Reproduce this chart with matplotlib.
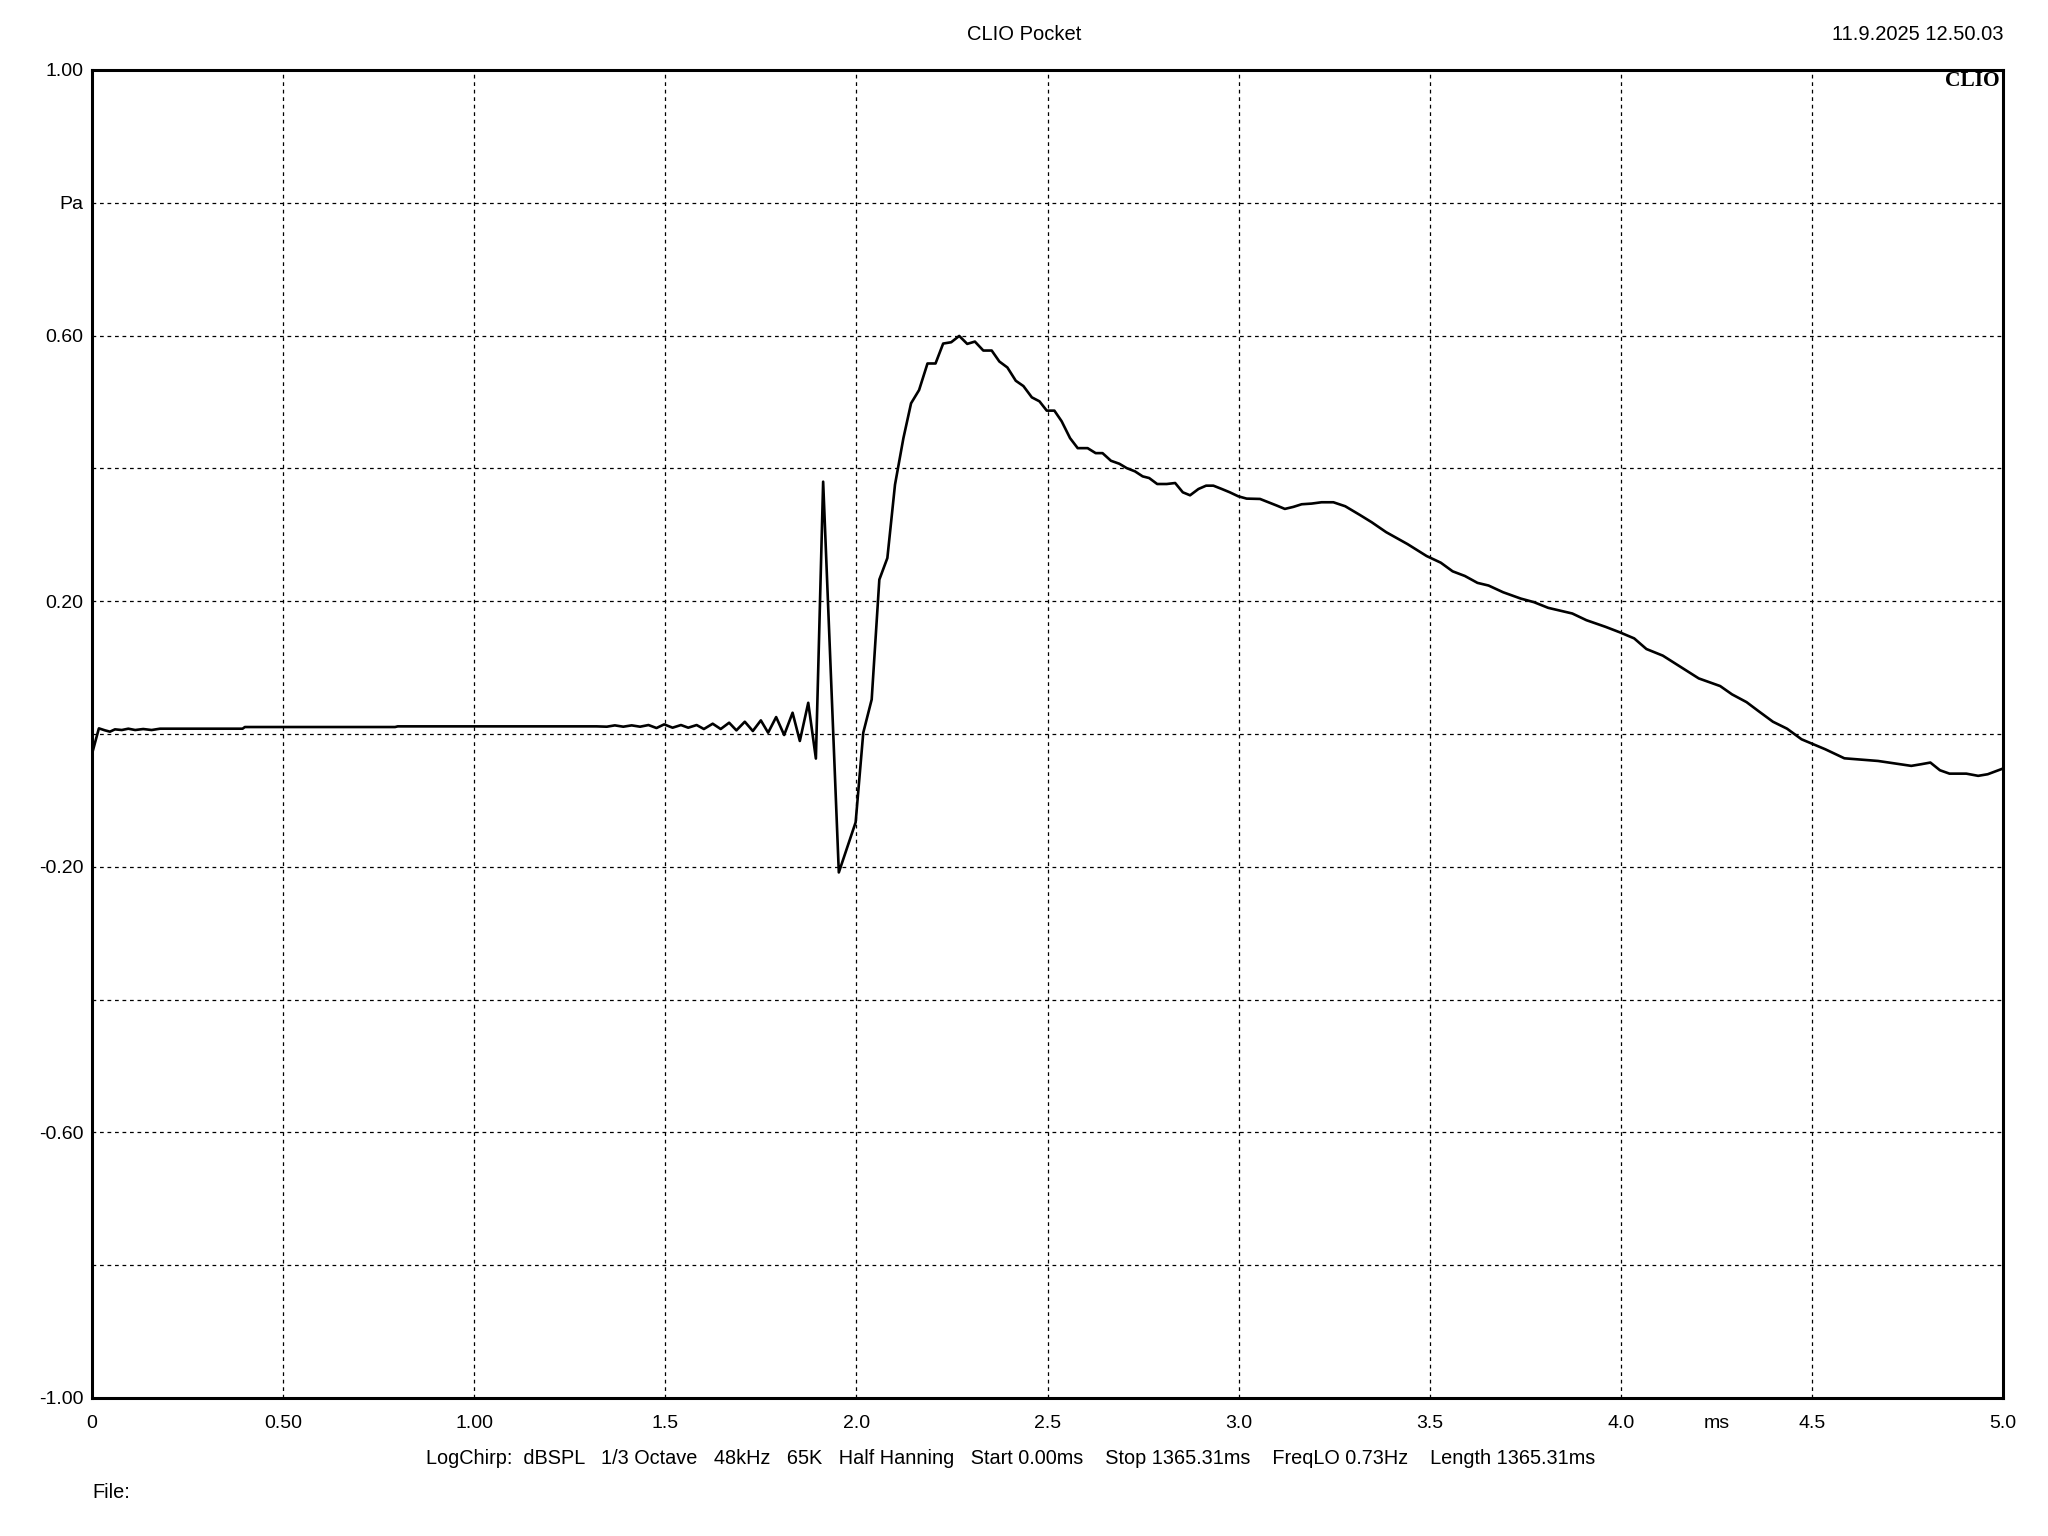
import matplotlib
matplotlib.use("Agg")
import matplotlib.pyplot as plt

# impulse response (ms, Pa)
time_ms = [0.000, 0.018, 0.034, 0.047, 0.060, 0.078, 0.095, 0.113, 0.134, 0.156,
           0.178, 0.394, 0.400, 0.793, 0.800, 1.320, 1.347, 1.368, 1.390, 1.412,
           1.434, 1.456, 1.477, 1.497, 1.519, 1.541, 1.560, 1.582, 1.601, 1.624,
           1.645, 1.667, 1.686, 1.708, 1.729, 1.750, 1.769, 1.790, 1.811, 1.833,
           1.852, 1.874, 1.894, 1.913, 1.954, 1.998, 2.018, 2.040, 2.060, 2.081,
           2.101, 2.123, 2.143, 2.164, 2.186, 2.207, 2.227, 2.248, 2.269, 2.290,
           2.310, 2.332, 2.354, 2.374, 2.395, 2.417, 2.437, 2.459, 2.479, 2.498,
           2.518, 2.537, 2.559, 2.579, 2.605, 2.626, 2.644, 2.666, 2.688, 2.707,
           2.729, 2.749, 2.766, 2.787, 2.812, 2.834, 2.854, 2.873, 2.895, 2.915,
           2.934, 2.956, 2.977, 2.999, 3.021, 3.056, 3.078, 3.100, 3.121, 3.143,
           3.165, 3.191, 3.217, 3.248, 3.279, 3.317, 3.348, 3.386, 3.417, 3.442,
           3.492, 3.529, 3.560, 3.592, 3.625, 3.654, 3.692, 3.738, 3.773, 3.810,
           3.873, 3.910, 3.960, 3.998, 4.035, 4.067, 4.110, 4.160, 4.204, 4.260,
           4.291, 4.329, 4.360, 4.398, 4.435, 4.473, 4.535, 4.585, 4.673, 4.760,
           4.785, 4.810, 4.835, 4.860, 4.904, 4.935, 4.960, 5.000]
pressure_pa = [-0.030, 0.0085, 0.0055, 0.0035, 0.007, 0.006, 0.008, 0.006, 0.0075, 0.006,
               0.008, 0.008, 0.0105, 0.0105, 0.0115, 0.0115, 0.011, 0.013, 0.011, 0.013,
               0.011, 0.0135, 0.009, 0.0145, 0.0095, 0.0135, 0.0095, 0.0135, 0.0075, 0.0155,
               0.0075, 0.017, 0.0055, 0.0185, 0.0045, 0.0205, 0.002, 0.0255, -0.0015, 0.032,
               -0.0105, 0.047, -0.037, 0.380, -0.2085, -0.133, 0.002, 0.052, 0.2325, 0.265,
               0.3755, 0.4456, 0.498, 0.518, 0.558, 0.558, 0.588, 0.590, 0.5995, 0.5875,
               0.591, 0.5775, 0.5775, 0.561, 0.552, 0.532, 0.524, 0.507, 0.501, 0.487,
               0.487, 0.471, 0.4456, 0.4305, 0.4305, 0.423, 0.423, 0.4115, 0.407, 0.4005,
               0.3955, 0.388, 0.3855, 0.3765, 0.3765, 0.378, 0.364, 0.3595, 0.369, 0.374,
               0.374, 0.369, 0.364, 0.358, 0.3545, 0.354, 0.349, 0.344, 0.339, 0.342,
               0.346, 0.347, 0.349, 0.349, 0.343, 0.330, 0.319, 0.304, 0.294, 0.286,
               0.268, 0.258, 0.245, 0.238, 0.2276, 0.2236, 0.2135, 0.204, 0.1985, 0.190,
               0.1815, 0.1714, 0.1614, 0.153, 0.144, 0.128, 0.118, 0.0997, 0.0837, 0.0722,
               0.0597, 0.048, 0.0346, 0.0185, 0.008, -0.008, -0.023, -0.0366, -0.0406, -0.048,
               -0.0456, -0.043, -0.0546, -0.0597, -0.0597, -0.063, -0.0606, -0.052]

x_ticks = [0, 0.5, 1.0, 1.5, 2.0, 2.5, 3.0, 3.5, 4.0, 4.5, 5.0]
x_labels = ["0", "0.50", "1.00", "1.5", "2.0", "2.5", "3.0", "3.5", "4.0", "4.5", "5.0"]
y_ticks = [-1.0, -0.8, -0.6, -0.4, -0.2, 0.0, 0.2, 0.4, 0.6, 0.8, 1.0]
y_labels = ["-1.00", "", "-0.60", "", "-0.20", "", "0.20", "", "0.60", "Pa", "1.00"]
settings = "LogChirp:  dBSPL   1/3 Octave   48kHz   65K   Half Hanning   Start 0.00ms    Stop 1365.31ms    FreqLO 0.73Hz    Length 1365.31ms"

plt.rcParams["font.family"] = ["Liberation Sans", "DejaVu Sans"]

fig = plt.figure(figsize=(20.48, 15.36), dpi=100)
ax = fig.add_axes([92/2048, 1 - 1398/1536, 1911/2048, 1328/1536])

ax.plot(time_ms, pressure_pa, color="black", linewidth=1.9)

ax.set_xlim(0, 5)
ax.set_ylim(-1, 1)
ax.set_xticks(x_ticks, x_labels)
ax.set_xticks([4.25], ["ms"], minor=True)
ax.set_yticks(y_ticks, y_labels)
ax.tick_params(which="both", length=0, labelsize=14, colors="black")
ax.tick_params(axis="x", which="both", pad=12)
ax.tick_params(axis="y", pad=6)
ax.grid(which="major", color="black", linewidth=0.9, linestyle=(0, (3, 3)))
for s in ax.spines.values():
    s.set_linewidth(2.2)

fig.text(1024/2048, 1 - 34/1536, "CLIO Pocket", ha="center", va="center", fontsize=14.5)
fig.text(2003/2048, 1 - 34/1536, "11.9.2025 12.50.03", ha="right", va="center", fontsize=14.5)
ax.text(0.998, 0.999, "CLIO", transform=ax.transAxes, ha="right", va="top",
        fontsize=15.5, fontweight="bold", family="Liberation Serif")
fig.text(426/2048, 1 - 1458/1536, settings, ha="left", va="center", fontsize=14.3)
fig.text(92/2048, 1 - 1492/1536, "File:", ha="left", va="center", fontsize=14.3)

fig.savefig("out.png", dpi=100)
